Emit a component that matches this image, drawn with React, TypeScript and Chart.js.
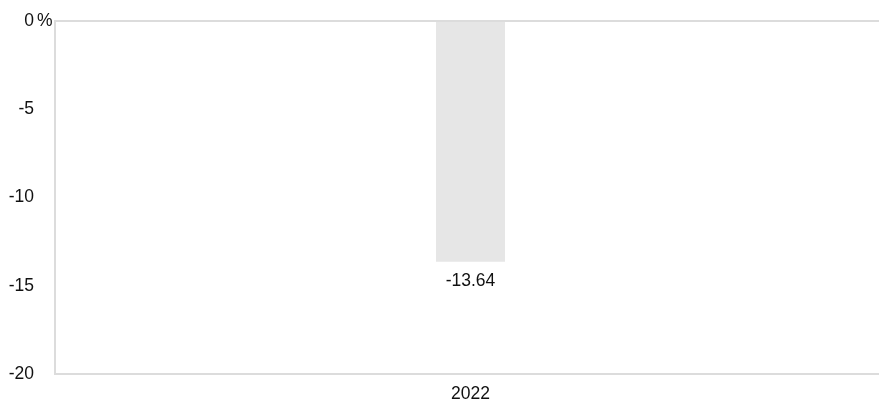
import React, { useEffect, useRef } from "react";
import { Chart, registerables } from "chart.js";

Chart.register(...registerables);

const categories = ["2022"];
const values = [-13.64];
const yTicks = [0, -5, -10, -15, -20];
const unitLabel = "%";

const FONT = "'Liberation Sans', Arial, sans-serif";
const FSIZE = 17.5;
const LINE = "#dcdcdc";
const TEXT = "#111111";

export default function App() {
  const ref = useRef<HTMLCanvasElement | null>(null);

  useEffect(() => {
    if (!ref.current) return;
    const labelPlugin = {
      id: "labels",
      afterDatasetsDraw(chart: any) {
        const ctx = chart.ctx;
        ctx.save();
        ctx.font = `${FSIZE}px ${FONT}`;
        ctx.fillStyle = TEXT;
        ctx.textAlign = "center";
        ctx.textBaseline = "middle";
        const meta = chart.getDatasetMeta(0);
        meta.data.forEach((bar: any, i: number) => {
          ctx.fillText(values[i].toFixed(2), bar.x, bar.y + 19);
        });
        const y0 = chart.scales.y.getPixelForValue(0);
        ctx.textAlign = "left";
        ctx.fillText(unitLabel, 37, y0);
        ctx.restore();
      },
    };

    const chart = new Chart(ref.current, {
      type: "bar",
      data: {
        labels: categories,
        datasets: [
          {
            data: values,
            backgroundColor: "#e6e6e6",
            borderWidth: 0,
            barPercentage: 1,
            categoryPercentage: 0.083,
          },
        ],
      },
      options: {
        animation: false,
        responsive: false,
        maintainAspectRatio: false,
        layout: { padding: { top: 21, left: 0, right: 0, bottom: 0 } },
        plugins: { legend: { display: false }, tooltip: { enabled: false } },
        scales: {
          x: {
            grid: { display: false, drawTicks: false },
            border: { display: true, color: LINE, width: 2 },
            ticks: { font: { size: FSIZE, family: FONT }, color: TEXT, padding: 10 },
            afterFit: (s: any) => {
              s.height = 27;
            },
          },
          y: {
            min: -20,
            max: 0,
            afterBuildTicks: (s: any) => {
              s.ticks = yTicks.map((v) => ({ value: v }));
            },
            grid: {
              drawTicks: false,
              lineWidth: 2,
              color: (c: any) => (c.tick && c.tick.value === 0 ? LINE : "rgba(0,0,0,0)"),
            },
            border: { display: true, color: LINE, width: 2 },
            ticks: {
              font: { size: FSIZE, family: FONT },
              color: TEXT,
              padding: 21,
              callback: (v: any) => String(v),
            },
            afterFit: (s: any) => {
              s.width = 55;
              s.paddingTop = 10;
              s.paddingBottom = 10;
            },
          },
        },
      },
      plugins: [labelPlugin],
    });
    return () => chart.destroy();
  }, []);

  return (
    <div style={{ position: "fixed", left: 0, top: 0, width: 879, height: 401, overflow: "hidden", background: "#fff" }}>
      <canvas ref={ref} width={886} height={401} style={{ width: 886, height: 401, display: "block" }} />
    </div>
  );
}
